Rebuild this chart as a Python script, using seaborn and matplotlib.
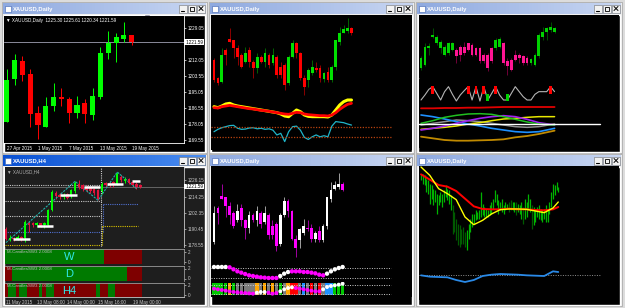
import numpy as np
import matplotlib
matplotlib.use("Agg")
import matplotlib.pyplot as plt
import matplotlib.transforms as mtransforms
from matplotlib.patches import Rectangle
from matplotlib.colors import LinearSegmentedColormap
import seaborn as sns

sns.set_style("dark")
plt.rcParams["font.family"] = ["Liberation Sans", "DejaVu Sans"]
FS = 3.3  # tick label size

# ---------------- data ----------------
win_titles = ["XAUUSD,Daily", "XAUUSD,Daily", "XAUUSD,Daily", "XAUUSD,H4", "XAUUSD,Daily", "XAUUSD,Daily"]

# window 1: daily candles with price / date scale
d1_open = [1179.4, 1202.1, 1211.7, 1204.8, 1183.9, 1176.8, 1187.8, 1192.7, 1191.5, 1183.9, 1189.2, 1183.0, 1192.7, 1215.8, 1221.4, 1223.2, 1225.30]
d1_close = [1201.6, 1212.2, 1204.3, 1183.5, 1177.7, 1187.9, 1192.7, 1191.5, 1183.9, 1188.3, 1183.5, 1193.3, 1215.8, 1221.1, 1224.3, 1225.5, 1221.59]
d1_high = [1207.5, 1215.2, 1214.4, 1207.5, 1187.8, 1192.4, 1199.8, 1197.5, 1192.4, 1193.3, 1191.3, 1197.2, 1219.3, 1227.8, 1226.4, 1232.6, 1225.61]
d1_low = [1179.4, 1199.0, 1201.2, 1176.8, 1170.1, 1176.8, 1185.3, 1187.8, 1178.6, 1181.2, 1178.9, 1180.3, 1191.3, 1212.6, 1211.3, 1222.0, 1220.34]
d1_dates = ["27 Apr 2015", "1 May 2015", "7 May 2015", "13 May 2015", "19 May 2015"]
d1_date_bars = [0, 4, 8, 12, 16]
d1_price_ticks = [1229.05, 1212.05, 1203.55, 1195.05, 1186.55, 1178.05, 1169.55]
last_price = 1221.59

# windows 2 and 5: longer daily history
dd_open = [1204, 1193, 1191, 1210, 1216.4, 1216, 1211, 1207, 1203, 1210, 1203, 1199, 1206, 1203, 1207, 1202, 1206, 1200,
           1201, 1190, 1206, 1214, 1208, 1193, 1192, 1196, 1199, 1199, 1192.6, 1197, 1192, 1200, 1215, 1220.4, 1221.4, 1223]
dd_close = [1192, 1190, 1207, 1207, 1215, 1211, 1206, 1200, 1208, 1203, 1199, 1206, 1203, 1208, 1201, 1207, 1195, 1195,
            1189, 1206, 1214, 1208, 1193, 1188, 1198, 1200, 1198, 1193, 1196, 1192, 1200, 1216, 1220, 1222.4, 1223, 1220]
dd_high = [1205, 1194, 1211, 1211, 1223, 1216, 1213, 1208, 1212, 1212, 1204, 1208, 1207, 1211, 1208, 1211, 1207, 1203,
           1202, 1207, 1216, 1215, 1209, 1195, 1199, 1204, 1203, 1201, 1197, 1200, 1201, 1216, 1224, 1225, 1229, 1224]
dd_low = [1191, 1189, 1190, 1201, 1215, 1205, 1201, 1199, 1202, 1200, 1193, 1196, 1202, 1200, 1199, 1201, 1193, 1193,
          1186, 1189, 1205, 1205, 1192, 1183, 1188, 1195, 1197, 1191, 1191, 1191, 1191, 1198, 1213, 1220, 1220.4, 1219]
ma_fast = [20, 19.25, 20.5, 22, 22.5, 21.25, 20.5, 20, 19.5, 19, 18.5, 18, 17.5, 17, 16.5, 16, 15.5, 14.5,
           13, 12.5, 15, 17.5, 16.25, 13.75, 12.75, 12.5, 12.5, 12.5, 12.5, 12.25, 13.75, 17.5, 21.25, 23.75, 25, 25]
ma_slow = [19.25, 19, 20, 20.5, 21, 20.5, 20, 19.5, 19, 18.5, 18.25, 17.75, 17.25, 17, 16.5, 16, 15.5, 15,
           14.5, 14.25, 15, 15.75, 15.5, 14.5, 14, 13.75, 13.5, 13.25, 13.25, 13, 13.75, 15.5, 18, 20, 21.75, 22.5]
osc = [51, 60, 66, 70, 74, 75, 64, 60, 61, 65, 66, 62, 64, 60, 62, 57, 39, 45,
       14, 51, 70, 72, 57, 30, 22, 32, 39, 32, 36, 32, 72, 89, 87, 85, 80, 76]
osc_levels = [70, 30]

# window 3: heikin-ashi style candles + zigzag + band lines
ha_open = [1199, 1201, 1211, 1218, 1214, 1211, 1207, 1208, 1210, 1210, 1212, 1212, 1214, 1213, 1211, 1211, 1207, 1207,
           1211, 1211, 1212, 1214, 1203, 1204, 1207, 1207, 1206, 1205, 1202, 1201, 1206, 1218, 1221, 1222, 1221]
ha_close = [1205, 1212, 1212, 1219, 1218, 1215, 1212, 1214.4, 1214, 1206, 1207, 1208, 1210, 1207, 1207, 1203, 1203, 1199,
            1203, 1216, 1216.4, 1202, 1200, 1198, 1204, 1205, 1202, 1202, 1204.4, 1207, 1219, 1221, 1223, 1224, 1223]
ha_high = [1206, 1214, 1214, 1223, 1219, 1216, 1213, 1215, 1215, 1211, 1213, 1215, 1214.4, 1214, 1212, 1212, 1208, 1208,
           1212, 1217, 1218, 1215, 1205, 1205, 1210, 1208, 1207, 1206, 1205, 1208, 1220, 1224, 1224, 1227, 1224]
ha_low = [1198, 1200, 1207, 1217, 1213, 1208, 1206, 1207, 1209, 1202, 1203, 1207, 1209, 1206, 1206, 1202, 1202, 1197,
          1202, 1210, 1211, 1201, 1195, 1197, 1203, 1202, 1201, 1201, 1201, 1200, 1205, 1216, 1216, 1221, 1220]
zz_val = [1.0, 2.5, 4.2, 5.0, 3.0, 1.0, 3.5, 5.0, 2.7, 0.7, 2.5, 3.8, 5.0, 1.0, 5.0, 0.7, 5.0, 1.0,
          3.0, 5.0, 2.5, 1.0, 1.0, 3.0, 5.0, 3.5, 2.0, 1.0, 1.0, 2.7, 3.5, 3.5, 3.5, 5.0, 3.5]
zz_peaks = [3, 12, 14, 16, 19, 33]
zz_troughs = [17, 22]
band_bars = [0, 3, 6, 9, 12, 15, 18, 21, 24, 27, 30, 34]
band_red = [11.5, 11.5, 11.6, 11.6, 11.7, 11.7, 11.8, 11.9, 11.9, 11.9, 11.9, 11.9]
band_green = [7.0, 7.8, 8.8, 9.4, 9.8, 9.9, 9.7, 9.0, 8.2, 7.4, 6.8, 6.5]
band_purple = [5.0, 5.5, 6.2, 7.0, 7.8, 8.5, 9.0, 9.3, 9.0, 8.2, 7.2, 6.5]
band_blue = [9.5, 9.0, 8.3, 7.5, 6.8, 6.2, 5.5, 5.0, 4.5, 4.3, 4.5, 5.5]
band_yellow = [5.2, 5.5, 5.8, 6.2, 6.8, 7.2, 7.8, 8.3, 8.5, 8.8, 9.0, 9.0]
band_gray = [6.5, 7.0, 7.5, 8.0, 7.8, 7.5, 7.0, 6.5, 6.0, 5.8, 6.0, 6.8]
band_orange = [3.0, 2.5, 2.0, 1.8, 1.8, 1.9, 2.0, 2.2, 2.8, 3.2, 3.8, 4.8]
band_level = 6.8

# window 4: H4 candles, zigzag, levels and three candle-direction strips
h4_open = [1190.76, 1182.7, 1183.92, 1182.94, 1184.41, 1183.92, 1195.15, 1194.91, 1193.2, 1194.66, 1193.2, 1193.2,
           1204.18, 1217.12, 1215.65, 1214.19, 1215.9, 1215.17, 1218.09, 1223.71, 1222.49, 1221.51, 1220.54, 1219.56,
           1218.83, 1218.09, 1223.95, 1224.44, 1224.93, 1223.71, 1228.59, 1225.42, 1226.88, 1224.93, 1223.71, 1223.0]
h4_close = [1182.94, 1183.92, 1182.94, 1184.65, 1182.94, 1195.64, 1193.68, 1193.2, 1194.66, 1192.95, 1194.66, 1204.18,
            1217.61, 1214.68, 1213.7, 1215.65, 1213.46, 1218.83, 1224.44, 1221.27, 1219.56, 1219.07, 1218.09, 1217.12,
            1212.72, 1223.71, 1222.49, 1222.49, 1222.98, 1231.03, 1226.15, 1227.37, 1224.44, 1222.49, 1221.27, 1221.59]
h4_high = [1191.97, 1185.87, 1184.65, 1185.87, 1185.39, 1196.86, 1196.13, 1195.64, 1195.64, 1195.15, 1195.64, 1205.4,
           1218.83, 1218.09, 1216.63, 1217.12, 1216.87, 1220.05, 1225.42, 1226.15, 1223.46, 1222.49, 1221.51, 1220.54,
           1220.05, 1224.93, 1224.93, 1225.42, 1225.91, 1232.25, 1229.81, 1228.59, 1227.86, 1225.91, 1224.93, 1223.5]
h4_low = [1182.21, 1181.48, 1181.97, 1182.21, 1181.97, 1180.99, 1188.32, 1191.97, 1192.22, 1191.97, 1191.24, 1192.71,
          1203.45, 1212.72, 1212.24, 1212.72, 1212.24, 1213.21, 1217.12, 1219.56, 1218.09, 1217.61, 1216.63, 1215.65,
          1211.5, 1216.39, 1221.51, 1221.02, 1221.51, 1222.49, 1224.93, 1224.44, 1223.46, 1221.51, 1220.05, 1220.8]
zz4_bars = [0, 18, 24, 29, 34]
zz4_price = [1180.5, 1225.42, 1211.5, 1232.25, 1220.05]
sr_price = [1182.94, 1192.71, 1215.17, 1221.27, 1223.22, 1225.42]
sr_from = [1.9, 8.0, 14.1, 20.3, 26.4, 32.8]
sr_to = [6.3, 12.3, 18.4, 24.5, 30.6, 35.0]
grid_levels = [1222.49, 1210.77, 1199.79]
blue_levels = [1188.32, 1209.06]
yellow_levels = [1178.8, 1192.71]
level_switch_bar = 24.8
level_end_bar = 34.5
h4_price_ticks = [1226.15, 1214.25, 1202.35, 1190.45, 1178.55]
h4_dates = ["11 May 2015", "13 May 08:00", "14 May 00:00", "15 May 16:00", "19 May 00:00"]
h4_date_bars = [0, 8, 16, 24, 33]
strip_w = [1, 1, 1, 1, 1, 1, 1, 1, 1, 1, 1, 1, 1, 1, 1, 1, 1, 1, 1, 1, 1, 1, 1, 1, 1, 1, 0, 0, 0, 0, 0, 0, 0, 0, 0, 0]
strip_d = [0, 0, 1, 1, 1, 1, 1, 1, 1, 1, 1, 1, 1, 1, 1, 1, 1, 1, 1, 1, 1, 1, 1, 1, 1, 1, 1, 1, 1, 1, 1, 1, 0, 0, 0, 0]
strip_h4 = [0, 1, 1, 0, 1, 1, 0, 0, 0, 1, 0, 1, 1, 0, 0, 0, 0, 0, 0, 0, 0, 0, 0, 0, 1, 0, 0, 1, 1, 0, 0, 0, 0, 0, 0, 0]
strip_names = ["W", "D", "H4"]

# window 5: trend dots and colour strip (candles reuse dd_* from bar 2)
trend_val = [27.5, 27.5, 27.5, 27.5, 27, 24, 21, 19, 17, 15, 14, 13, 12, 11.5, 11, 11, 11, 14,
             17.5, 20, 21, 21, 21, 20, 20, 19, 18, 16, 15, 17.5, 21, 24, 26, 27.5]
trend_up = [1, 1, 1, 1, 0, 0, 0, 0, 0, 0, 0, 0, 0, 0, 0, 0, 0, 1, 1, 1, 0, 0, 0, 0, 0, 0, 0, 0, 0, 1, 1, 1, 1, 1]
trend_levels = [26, 11]
sig_val = [15, 14, 13, 12, 11, 10, 9.5, 9, 8.5, 8, 7.5, 9, 10, 10, 9, 7.5, 8.5, 11,
           14, 16, 17, 16, 15, 14, 13, 12, 11, 11, 14, 17.5, 19, 20, 21, 22.5]
sig_up = [0, 0, 0, 0, 0, 0, 0, 0, 0, 0, 0, 1, 1, 1, 0, 0, 0, 1, 1, 1, 1, 0, 0, 0, 0, 0, 0, 0, 1, 1, 1, 1, 1, 1]
sig_levels = [20, 7.5]
strip5_state = ["g", "g", "g", "g", "o", "g", "x", "x", "x", "x", "x", "o", "x", "o", "x", "o", "x", "g",
                "x", "o", "r", "r", "x", "b", "x", "r", "x", "r", "x", "b", "b", "g", "g", "g"]

# window 6: bar chart with two averages and an oscillator
b6_high = [1227, 1227, 1226, 1224, 1223, 1221, 1220, 1218, 1217, 1215, 1214, 1216, 1215, 1217, 1220, 1218, 1217, 1214,
           1208, 1204, 1200, 1197, 1196, 1194, 1195, 1192, 1193, 1197, 1200, 1203, 1203, 1205, 1204, 1205, 1216, 1209,
           1207, 1206, 1205, 1208, 1210, 1212, 1217, 1215, 1211, 1210, 1212, 1208, 1210, 1209, 1210, 1211, 1210, 1210,
           1210, 1209, 1208, 1210, 1207, 1212, 1210, 1215, 1212, 1208, 1207, 1205, 1207, 1208, 1206, 1205, 1206, 1208,
           1206, 1210, 1216, 1221, 1220, 1222, 1219]
b6_low = [1223, 1221, 1220, 1216, 1215, 1209, 1212, 1208, 1210, 1203, 1208, 1210, 1207, 1210, 1213, 1211, 1209, 1205,
          1191, 1192, 1187, 1184, 1183, 1185, 1185, 1183, 1181, 1188, 1192, 1195, 1197, 1199, 1200, 1200, 1201, 1202,
          1201, 1201, 1201, 1202, 1203, 1206, 1210, 1208, 1203, 1205, 1204, 1203, 1205, 1206, 1204, 1205, 1205, 1204,
          1202, 1204, 1203, 1200, 1197, 1200, 1201, 1205, 1204, 1194, 1196, 1198, 1201, 1200, 1199, 1198, 1200, 1198,
          1198, 1203, 1207, 1212, 1214, 1217, 1216]
b6_dark = [18, 19, 20, 21, 22, 23, 24, 25, 50, 51, 54, 58, 63]
line6_bars = [0, 5, 10, 15, 20, 25, 30, 35, 40, 45, 50, 55, 60, 65, 70, 75, 78]
line6_yellow = [1231, 1226, 1218, 1215, 1211.4, 1201, 1196.4, 1199, 1202.8, 1205.4, 1205.8, 1205.8, 1205.6, 1204.6, 1203.6, 1206.4, 1210]
line6_red = [1226.6, 1223.4, 1220.2, 1219.2, 1216.6, 1212, 1207.4, 1205.8, 1205.6, 1205.6, 1206, 1205.6, 1205.6, 1205.2, 1205, 1205.6, 1207]
line6_blue = [15, 13, 12.5, 12, 8, 5, 8, 14, 16, 17, 16.5, 16, 15, 14.5, 14, 21, 20]
blue6_level = 16

# ---------------- figure ----------------
W, H = 625, 308
fig = plt.figure(figsize=(W / 100, H / 100), dpi=100)

bg = fig.add_axes([0, 0, 1, 1], zorder=-5)
bg.axis("off")
bg.add_patch(Rectangle((0, 0), W, H, color="#dcdcdc"))

frames = [(2, 207, 2, 153), (209, 414, 2, 153), (416, 622, 2, 153),
          (2, 207, 154, 306), (209, 414, 154, 306), (416, 622, 154, 306)]
cm_inactive = LinearSegmentedColormap.from_list("ina", ["#8faae0", "#c8d6f2"])
cm_active = LinearSegmentedColormap.from_list("act", ["#0a52d4", "#4a8cf0"])
grad = np.linspace(0, 1, 64).reshape(1, -1)

for k, (x0, x1, y0, y1) in enumerate(frames):
    bg.add_patch(Rectangle((x0, y0), x1 - x0, y1 - y0, fc="#eeeeee", ec="#a0a0a0", lw=0.5))
    bg.imshow(grad, cmap=cm_active if k == 3 else cm_inactive,
              extent=(x0 + 1, x1 - 1, y0 + 12, y0 + 1), aspect="auto", zorder=2)
    bg.add_patch(Rectangle((x0 + 2, y0 + 13), x1 - x0 - 4, y1 - y0 - 14,
                           fc="#1e1e1e" if k == 3 else "black", zorder=2))
    bg.add_patch(Rectangle((x0 + 3, y0 + 3.5), 6, 6, fc="white", ec="#3a5fb0", lw=0.4, zorder=3))
    bg.text(x0 + 11, y0 + 7, win_titles[k], color="white", fontsize=4.2, fontweight="bold",
            va="center", ha="left", zorder=3)
    for j in range(3):
        bx, by = x1 - 28 + j * 9, y0 + 2.5
        bg.add_patch(Rectangle((bx, by), 8, 8, fc="#f2f2f2", ec="#707070", lw=0.4, zorder=3))
        if j == 0:
            bg.plot([bx + 2, bx + 5], [by + 6, by + 6], color="black", lw=0.8, zorder=4)
        elif j == 1:
            bg.add_patch(Rectangle((bx + 2, by + 2), 4, 4, fc="none", ec="black", lw=0.6, zorder=4))
        else:
            bg.plot([bx + 2, bx + 6], [by + 2, by + 6], color="black", lw=0.7, zorder=4)
            bg.plot([bx + 2, bx + 6], [by + 6, by + 2], color="black", lw=0.7, zorder=4)

bg.plot([147, 147], [16.5, 16.5], marker="v", ms=2.5, color="#a0a0b0", zorder=4)
bg.plot([147, 147], [168.5, 168.5], marker="v", ms=2.5, color="#a0a0a0", zorder=4)
bg.text(602, 124, "I", color="white", fontsize=4.5, va="center", ha="center", zorder=4)
bg.set_xlim(0, W)
bg.set_ylim(H, 0)


def pax(x0, y0, x1, y1, fc="black"):
    ax = fig.add_axes([x0 / W, 1 - y1 / H, (x1 - x0) / W, (y1 - y0) / H])
    ax.set_facecolor(fc)
    ax.grid(False)
    for s in ax.spines.values():
        s.set_visible(False)
    ax.set_xticks([])
    ax.set_yticks([])
    return ax


def tidy(ax):
    ax.set_xlabel("")
    ax.set_ylabel("")


def candles(ax, o, h, l, c, up, dn, up_w, dn_w, width=0.65, lw=0.7):
    o, h, l, c = map(np.asarray, (o, h, l, c))
    x = np.arange(len(o))
    bull = c >= o
    ax.vlines(x, l, h, colors=np.where(bull, up_w, dn_w), lw=lw, zorder=2)
    body = np.maximum(np.abs(c - o), (h.max() - l.min()) * 0.008)
    ax.bar(x, body, bottom=np.minimum(o, c), width=width, color=np.where(bull, up, dn), lw=0, zorder=3)


def price_scale(ax, ticks, color):
    ax.yaxis.tick_right()
    ax.set_yticks(ticks, [f"{t:.2f}" for t in ticks])
    ax.tick_params(axis="y", colors=color, labelsize=FS, length=1.5, width=0.5, pad=1.2)
    ax.spines["right"].set_visible(True)
    ax.spines["right"].set_color(color)
    ax.spines["right"].set_linewidth(0.6)


def price_tag(ax, price):
    tr = mtransforms.blended_transform_factory(ax.transAxes, ax.transData)
    ax.text(1.004, price, f" {price:.2f} ", transform=tr, fontsize=FS, color="black", va="center", ha="left",
            bbox=dict(fc="white", ec="none", pad=0.3), clip_on=False, zorder=6)


def date_scale(ax, bars, labels, color):
    ax.set_xticks(bars, labels)
    ax.tick_params(axis="x", colors=color, labelsize=FS, length=1.5, width=0.5, pad=1)
    for t in ax.get_xticklabels():
        t.set_ha("left")
    ax.spines["bottom"].set_visible(True)
    ax.spines["bottom"].set_color(color)
    ax.spines["bottom"].set_linewidth(0.6)


# ---- window 1 ----
ax1 = pax(4, 16, 184, 143)
candles(ax1, d1_open, d1_high, d1_low, d1_close, "#00ff00", "#ff0000", "#00ff00", "#ff0000", width=0.65)
ax1.axhline(last_price, color="#8a8a9a", lw=0.7, zorder=1)
ax1.set_xlim(-0.35, 22.7)
ax1.set_ylim(1168.1, 1235.6)
price_scale(ax1, d1_price_ticks, "white")
price_tag(ax1, last_price)
date_scale(ax1, d1_date_bars, d1_dates, "white")
ax1.text(0.012, 0.985, f"\u25bc XAUUSD,Daily  {d1_open[-1]:.2f} {d1_high[-1]:.2f} {d1_low[-1]:.2f} {d1_close[-1]:.2f}",
         transform=ax1.transAxes, color="white", fontsize=3.3, va="top", ha="left")

# ---- window 2 ----
ax2 = pax(211, 15, 412, 98)
candles(ax2, dd_open, dd_high, dd_low, dd_close, "#00e000", "#ff0000", "#006400", "#8b0000", width=0.7)
ax2.set_xlim(-0.76, 50.4)
ax2.set_ylim(1181.2, 1231)

ax2b = pax(211, 98, 412, 120)
bars36 = np.arange(len(ma_fast))
sns.lineplot(x=bars36, y=ma_fast, ax=ax2b, color="#ffff00", lw=2.2)
sns.lineplot(x=bars36, y=ma_slow, ax=ax2b, color="#ff0000", lw=2.0)
ax2b.set_xlim(-0.76, 50.4)
ax2b.set_ylim(10, 26.5)
tidy(ax2b)

ax2c = pax(211, 120, 412, 150)
sns.lineplot(x=np.arange(len(osc)), y=osc, ax=ax2c, color="#1fb5c9", lw=0.9)
for lv in osc_levels:
    ax2c.axhline(lv, xmax=0.895, color="#b8420f", ls=(0, (1, 1.2)), lw=0.9)
ax2c.set_xlim(-0.76, 50.4)
ax2c.set_ylim(-17.5, 95)
tidy(ax2c)

# ---- window 3 ----
ax3 = pax(419, 15, 619, 78)
candles(ax3, ha_open, ha_high, ha_low, ha_close, "#00d000", "#ff1493", "#005000", "#700038", width=0.7)
ax3.set_xlim(-0.51, 50.4)
ax3.set_ylim(1193, 1231)

ax3b = pax(419, 79, 619, 104)
sns.lineplot(x=np.arange(len(zz_val)), y=zz_val, ax=ax3b, color="#b4b4b4", lw=0.8)
ax3b.bar(zz_peaks, 2.4, bottom=2.8, width=0.7, color="#ff0000", lw=0, zorder=3)
ax3b.bar(zz_troughs, 2.3, bottom=0.6, width=0.7, color="#00d000", lw=0, zorder=3)
ax3b.set_xlim(-0.51, 50.4)
ax3b.set_ylim(-0.2, 7.3)
tidy(ax3b)

ax3c = pax(419, 104, 619, 148)
for vals, col, w in [(band_orange, "#c08a00", 1.3), (band_gray, "#909090", 1.1), (band_yellow, "#e8e800", 1.1),
                     (band_blue, "#1e90ff", 1.2), (band_purple, "#a020f0", 1.2), (band_green, "#20c020", 1.1),
                     (band_red, "#e00000", 1.3)]:
    sns.lineplot(x=band_bars, y=vals, ax=ax3c, color=col, lw=w)
ax3c.axhline(band_level, xmax=0.905, color="white", lw=1.0)
ax3c.set_xlim(-0.51, 50.4)
ax3c.set_ylim(-0.4, 12.8)
tidy(ax3c)

# ---- window 4 ----
g4 = "#1e1e1e"
ax4 = pax(5, 167, 184, 247, fc=g4)
candles(ax4, h4_open, h4_high, h4_low, h4_close, "#00ff00", "#e0143c", "#00ff00", "#e0143c", width=0.65)
dots = (0, (1, 1))
ax4.hlines(grid_levels, -0.3, level_switch_bar, colors="#c8c8c8", ls=dots, lw=0.8, zorder=1)
ax4.hlines(blue_levels[0], -0.3, level_switch_bar, colors="#5070d0", ls=dots, lw=0.8, zorder=1)
ax4.vlines(level_switch_bar + 0.6, blue_levels[0], blue_levels[1], colors="#5070d0", ls=dots, lw=0.8)
ax4.hlines(blue_levels[1], level_switch_bar + 0.6, level_end_bar, colors="#5070d0", ls=dots, lw=0.8)
ax4.hlines(yellow_levels[0], -0.3, level_switch_bar, colors="#d8c000", ls=dots, lw=0.8, zorder=1)
ax4.vlines(level_switch_bar + 0.2, yellow_levels[0], yellow_levels[1], colors="#d8c000", ls=dots, lw=0.8)
ax4.hlines(yellow_levels[1], level_switch_bar + 0.2, level_end_bar, colors="#d8c000", ls=dots, lw=0.8)
ax4.axvline(level_switch_bar, color="#d0d0d0", ls=dots, lw=0.8)
sns.lineplot(x=zz4_bars, y=zz4_price, ax=ax4, color="#20b2aa", lw=0.8, ls=(0, (2, 1)))
ax4.hlines(sr_price, sr_from, sr_to, colors="white", lw=1.8, zorder=4)
ax4.axhline(last_price, color="#707070", lw=0.6, zorder=1)
ax4.set_xlim(-0.26, 46.4)
ax4.set_ylim(1177.3, 1235.9)
tidy(ax4)
price_scale(ax4, h4_price_ticks, "#c8c8c8")
price_tag(ax4, last_price)
ax4.text(0.012, 0.975, "\u25bc XAUUSD,H4", transform=ax4.transAxes, color="#b0b0b0", fontsize=3.3, va="top")

strip_boxes = [(249, 264), (266, 281), (283, 297)]
for sname, svals, (sy0, sy1) in zip(strip_names, [strip_w, strip_d, strip_h4], strip_boxes):
    axs = pax(5, sy0, 184, sy1, fc=g4)
    axs.bar(np.arange(len(svals)), 3.2, bottom=-0.6, width=1.0,
            color=np.where(np.asarray(svals) == 1, "#007a00", "#7e0000"), lw=0)
    axs.set_xlim(-0.26, 46.4)
    axs.set_ylim(-0.5, 2.5)
    axs.yaxis.tick_right()
    axs.set_yticks([2, 0], ["2", "0"])
    axs.tick_params(axis="y", colors="#c8c8c8", labelsize=FS, length=1.5, width=0.5, pad=1.2)
    for side in ["right", "top"]:
        axs.spines[side].set_visible(True)
        axs.spines[side].set_color("#9a9a9a")
        axs.spines[side].set_linewidth(0.6)
    axs.text(0.01, 0.93, "M-CandlesSW3 2.0008", transform=axs.transAxes, color="#bcbcbc", fontsize=3.2, va="top")
    axs.text(0.36, 0.45, sname, transform=axs.transAxes, color="#30e8e8", fontsize=8, va="center", ha="center")
    if sname == "H4":
        date_scale(axs, h4_date_bars, h4_dates, "#c8c8c8")

# ---- window 5 ----
o5, h5, l5, c5 = dd_open[2:], dd_high[2:], dd_low[2:], dd_close[2:]
ax5 = pax(211, 166, 412, 264)
candles(ax5, o5, h5, l5, c5, "#ffffff", "#ff00ff", "#a0a0a0", "#a000a0", width=0.7)
ax5.set_xlim(-0.77, 50.8)
ax5.set_ylim(1178.9, 1233.1)

bars34 = np.arange(len(trend_val))
ax5b = pax(211, 264, 412, 282)
for lv in trend_levels:
    ax5b.axhline(lv, xmax=0.895, color="#c8c8c8", ls=(0, (1, 1.5)), lw=0.7)
sns.scatterplot(x=bars34, y=trend_val, hue=["up" if u else "dn" for u in trend_up],
                palette={"up": "white", "dn": "#ff00ff"}, s=10, linewidth=0, legend=False, ax=ax5b, zorder=3)
ax5b.set_xlim(-0.77, 50.8)
ax5b.set_ylim(5, 32)
tidy(ax5b)

ax5c = pax(211, 282, 412, 297)
strip5_pal = {"g": "#00c800", "o": "#ffa500", "x": "#7a7a7a", "r": "#ff0000", "b": "#1e90ff"}
ax5c.bar(bars34, 18.5, bottom=5, width=0.85, color=[strip5_pal[s] for s in strip5_state], lw=0, zorder=1)
for lv in sig_levels:
    ax5c.axhline(lv, xmax=0.895, color="#d0d0d0", ls=(0, (1, 1.5)), lw=0.7, zorder=2)
sns.scatterplot(x=bars34, y=sig_val, hue=["up" if u else "dn" for u in sig_up],
                palette={"up": "white", "dn": "#ff00ff"}, s=8, linewidth=0, legend=False, ax=ax5c, zorder=3)
ax5c.set_xlim(-0.77, 50.8)
ax5c.set_ylim(2.5, 25)
tidy(ax5c)

# ---- window 6 ----
ax6 = pax(419, 166, 619, 262)
x6 = np.arange(len(b6_high))
col6 = ["#005a00" if i in b6_dark else "#00b400" for i in x6]
ax6.vlines(x6, b6_low, b6_high, colors=col6, lw=0.9)
sns.lineplot(x=line6_bars, y=line6_red, ax=ax6, color="#ff0000", lw=1.4)
sns.lineplot(x=line6_bars, y=line6_yellow, ax=ax6, color="#ffff00", lw=1.0)
ax6.set_xlim(-1.14, 112.5)
ax6.set_ylim(1174, 1231.6)
tidy(ax6)

ax6b = pax(419, 262, 619, 300)
ax6b.axhline(blue6_level, xmax=0.905, color="#909090", ls=(0, (1, 1.5)), lw=0.7)
sns.lineplot(x=line6_bars, y=line6_blue, ax=ax6b, color="#2a8ae8", lw=1.3)
ax6b.set_xlim(-1.14, 112.5)
ax6b.set_ylim(-22, 35)
tidy(ax6b)

fig.savefig("out.png", dpi=100)
